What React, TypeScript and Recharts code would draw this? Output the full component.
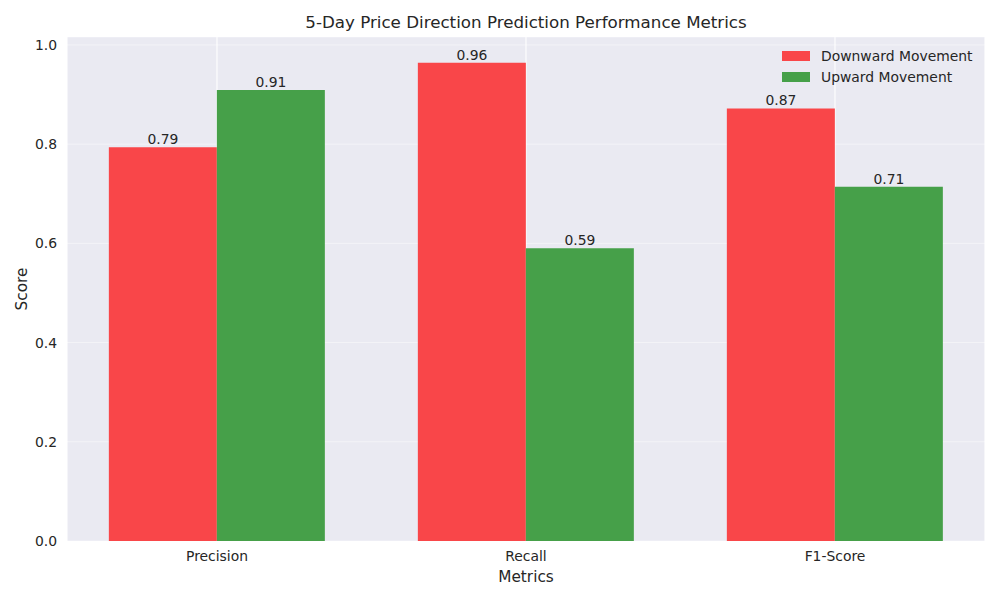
import React from "react";
import { BarChart, Bar, XAxis, YAxis, CartesianGrid, LabelList, Label } from "recharts";

const metrics = ["Precision", "Recall", "F1-Score"];
const downward = [0.794, 0.964, 0.872];
const upward = [0.909, 0.59, 0.714];
const yTicks = [0, 0.2, 0.4, 0.6, 0.8, 1.0];
const seriesNames = ["Downward Movement", "Upward Movement"];

const data = metrics.map((m, i) => ({ metric: m, down: downward[i], up: upward[i] }));

const FONT = "'DejaVu Sans', sans-serif";
const TXT = "#262626";
const RED = "rgb(249,70,73)";
const GREEN = "rgb(70,160,73)";

const LegendBox = () => (
  <div style={{ position: "absolute", left: 782, top: 45.5, fontFamily: FONT, fontSize: 13.9, color: TXT, zIndex: 2 }}>
    {[RED, GREEN].map((c, i) => (
      <div key={i} style={{ display: "flex", alignItems: "center", height: 21 }}>
        <div style={{ width: 28, height: 10, background: c, marginRight: 11 }} />
        <span>{seriesNames[i]}</span>
      </div>
    ))}
  </div>
);

export default function App() {
  return (
    <div style={{ position: "fixed", left: 0, top: 0, width: 1000, height: 600, background: "#fff" }}>
      <div
        style={{
          position: "absolute",
          left: 67,
          width: 918,
          top: 12,
          textAlign: "center",
          fontFamily: FONT,
          fontSize: 16.7,
          color: TXT,
          lineHeight: "20px",
          zIndex: 2,
        }}
      >
        5-Day Price Direction Prediction Performance Metrics
      </div>
      <LegendBox />
      <BarChart
        width={1000}
        height={600}
        data={data}
        margin={{ top: 37, right: 15, left: 7, bottom: 29 }}
        barCategoryGap="15%"
        barGap={0}
      >
        <CartesianGrid
          fill="#EAEAF2"
          stroke="#ffffff"
          strokeWidth={1}
          horizontal={(p: any) => (
            <line key={p.key} x1={p.x1} y1={p.y1} x2={p.x2} y2={p.y2} stroke="#ffffff" strokeOpacity={0.45} strokeWidth={1} />
          )}
          vertical={(p: any) => (
            <line key={p.key} x1={p.x1} y1={p.y1} x2={p.x2} y2={p.y2} stroke="#ffffff" strokeWidth={1.1} />
          )}
        />
        <XAxis
          dataKey="metric"
          axisLine={false}
          tickLine={false}
          height={30}
          padding={{ left: -4.5, right: -4.5 }}
          tick={{ fill: TXT, fontSize: 13.9, fontFamily: FONT }}
          tickMargin={4}
        >
          <Label
            content={(p: any) => {
              const vb = p.viewBox;
              return (
                <text x={vb.x + vb.width / 2} y={577} textAnchor="middle" dominantBaseline="central" fill={TXT} fontSize={15.3} fontFamily={FONT}>
                  Metrics
                </text>
              );
            }}
          />
        </XAxis>
        <YAxis
          type="number"
          domain={[0, 1.016]}
          ticks={yTicks}
          allowDataOverflow
          axisLine={false}
          tickLine={false}
          width={60}
          tickMargin={4}
          tickFormatter={(v: number) => v.toFixed(1)}
          tick={{ fill: TXT, fontSize: 13.9, fontFamily: FONT }}
        >
          <Label
            content={(p: any) => {
              const vb = p.viewBox;
              const cy = vb.y + vb.height / 2;
              return (
                <text x={22} y={cy} transform={`rotate(-90, 22, ${cy})`} textAnchor="middle" dominantBaseline="central" fill={TXT} fontSize={15.3} fontFamily={FONT}>
                  Score
                </text>
              );
            }}
          />
        </YAxis>
        <Bar dataKey="down" name={seriesNames[0]} fill={RED} isAnimationActive={false}>
          <LabelList dataKey="down" position="top" offset={3} formatter={(v: any) => Number(v).toFixed(2)} fill={TXT} fontSize={13.9} fontFamily={FONT} />
        </Bar>
        <Bar dataKey="up" name={seriesNames[1]} fill={GREEN} isAnimationActive={false}>
          <LabelList dataKey="up" position="top" offset={3} formatter={(v: any) => Number(v).toFixed(2)} fill={TXT} fontSize={13.9} fontFamily={FONT} />
        </Bar>
      </BarChart>
    </div>
  );
}
